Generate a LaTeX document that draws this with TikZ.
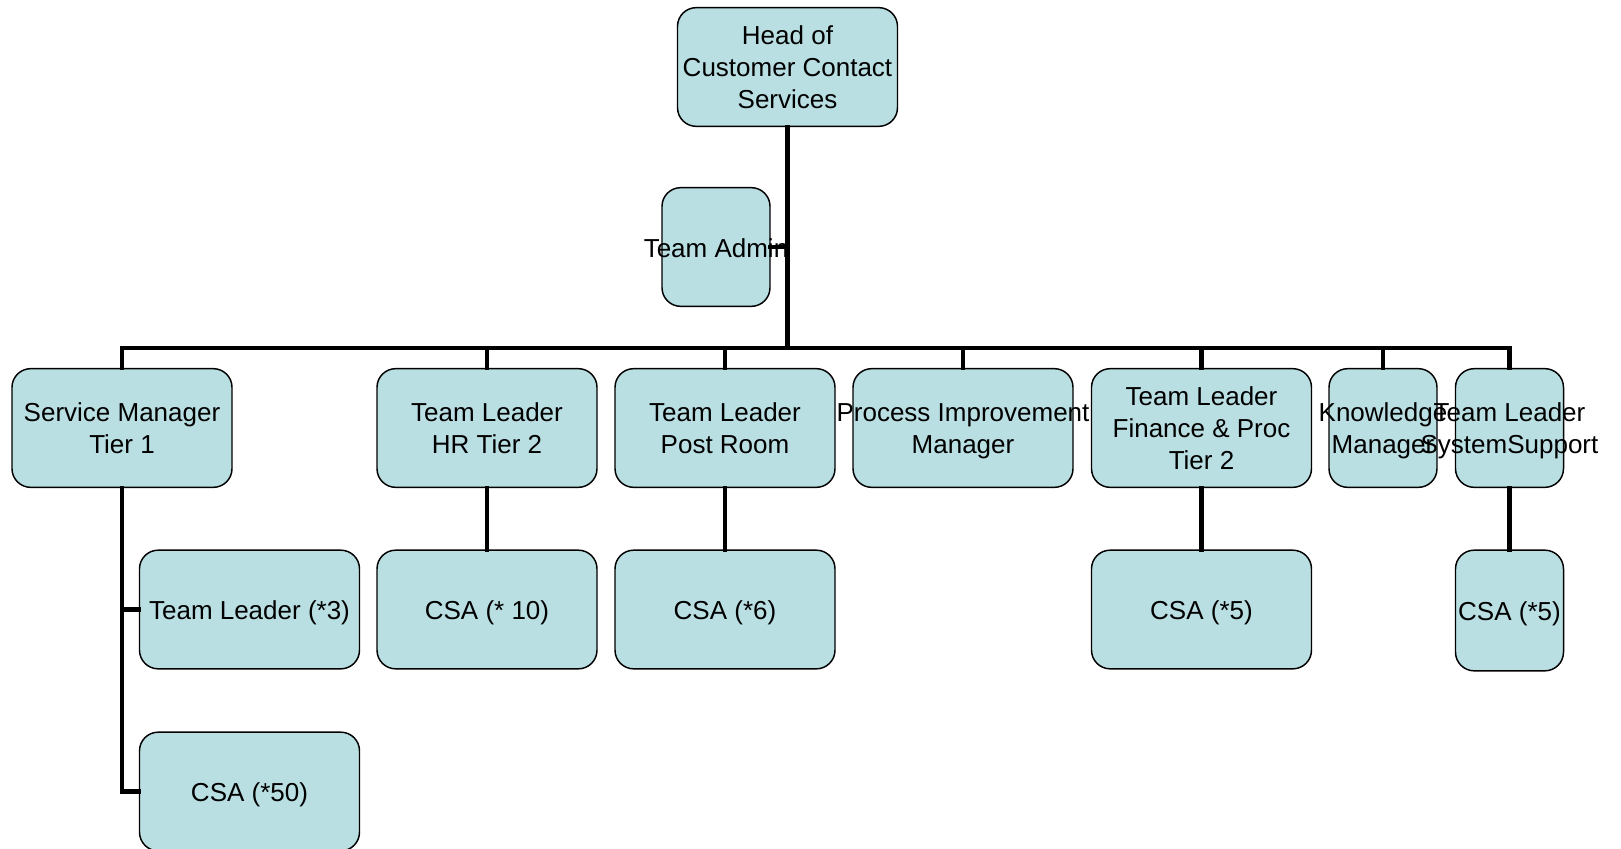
\documentclass[tikz,border=0pt]{standalone}
\usepackage{fontspec}
\setmainfont{Liberation Sans}
\definecolor{boxfill}{RGB}{185,223,227}
\begin{document}
\begin{tikzpicture}[x=0.75pt,y=-0.75pt,
  box/.style={draw=black,line width=1.1pt,fill=boxfill,rounded corners=14pt,
    minimum height=89pt,inner sep=0pt},
  wide/.style={box,minimum width=165pt},
  slim/.style={box,minimum width=81pt},
  txt/.style={align=center,inner sep=0pt,yshift=-2.8pt,
    font=\fontsize{19.5}{24}\selectfont,
    execute at begin node=\strut,execute at end node=\strut},
  multi/.style={yshift=-1.2pt},
  conn/.style={line width=3.5pt,line cap=rect,line join=miter}]
\useasboundingbox (0,0) rectangle (1621,849);

% boxes
\node[wide] (head) at (787.5,67) {};
\node[slim] (admin) at (716,247) {};
\node[wide] (sm) at (122,428) {};
\node[wide] (hr) at (487,428) {};
\node[wide] (post) at (725,428) {};
\node[wide] (proc) at (963,428) {};
\node[wide] (fin) at (1201.5,428) {};
\node[slim] (know) at (1383,428) {};
\node[slim] (sys) at (1509.5,428) {};
\node[wide] (tl) at (249.5,609.5) {};
\node[wide] (csaA) at (249.5,791.5) {};
\node[wide] (csaB) at (487,609.5) {};
\node[wide] (csaC) at (725,609.5) {};
\node[wide] (csaD) at (1201.5,609.5) {};
\node[slim,minimum height=90.5pt] (csaE) at (1509.5,610.5) {};

% texts
\node[txt,multi] (headT) at (head) {Head of\\Customer Contact\\Services};
\node[txt] (adminT) at (admin) {Team Admin};
\node[txt,multi] (smT) at (sm) {Service Manager\\Tier 1};
\node[txt,multi] (hrT) at (hr) {Team Leader\\HR Tier 2};
\node[txt,multi] (postT) at (post) {Team Leader\\Post Room};
\node[txt,multi] (procT) at (proc) {Process Improvement\\Manager};
\node[txt,multi] (finT) at (fin) {Team Leader\\Finance \& Proc\\Tier 2};
\node[txt,multi] (knowT) at (know) {Knowledge\\Manager};
\node[txt,multi] (sysT) at (sys) {Team Leader\\SystemSupport};
\node[txt] (tlT) at (tl) {Team Leader (*3)};
\node[txt] (csaAT) at (csaA) {CSA (*50)};
\node[txt] (csaBT) at (csaB) {CSA (* 10)};
\node[txt] (csaCT) at (csaC) {CSA (*6)};
\node[txt] (csaDT) at (csaD) {CSA (*5)};
\node[txt] (csaET) at (csaE) {CSA (*5)};

% connectors
\coordinate (busL) at (122,348);
\coordinate (busR) at (1509.5,348);
\draw[conn] (busL) -- (busR);
\draw[conn] (head.south) -- (head.south |- busL);
\draw[conn] (admin.east) -- (admin.east -| head.south);
\foreach \n in {sm,hr,post,proc,fin,know,sys}
  \draw[conn] (\n.north) -- (\n.north |- busL);
\draw[conn] (sm.south) -- (sm.south |- csaA.west) -- (csaA.west);
\draw[conn] (tl.west) -- (tl.west -| sm.south);
\draw[conn] (hr.south) -- (csaB.north);
\draw[conn] (post.south) -- (csaC.north);
\draw[conn] (fin.south) -- (csaD.north);
\draw[conn] (sys.south) -- (csaE.north);
\end{tikzpicture}
\end{document}
